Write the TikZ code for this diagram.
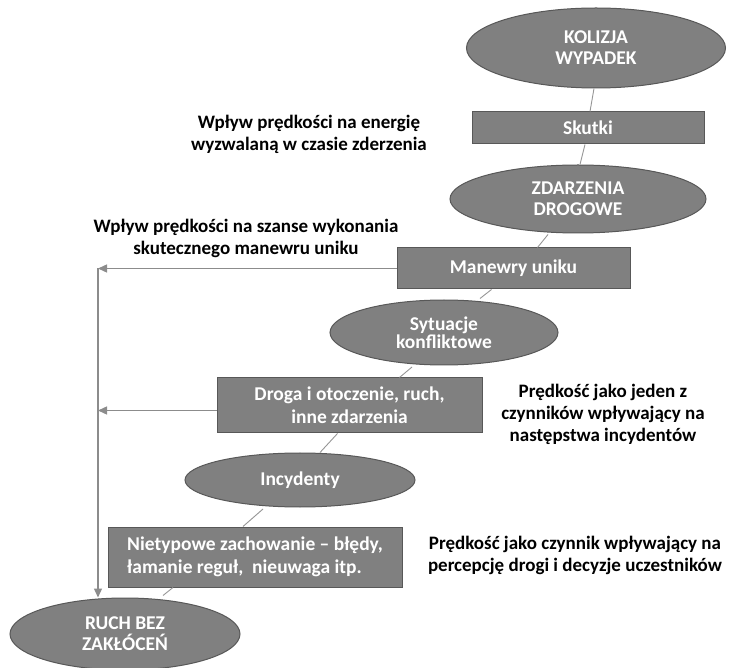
\documentclass[tikz,border=0pt]{standalone}
\usepackage{fontspec}
\setmainfont{Carlito}
\usetikzlibrary{shapes.geometric,arrows.meta}
\definecolor{boxfill}{RGB}{128,128,128}
\definecolor{boxline}{RGB}{88,88,88}
\definecolor{linkgray}{RGB}{150,150,150}
\definecolor{arrgray}{RGB}{140,140,140}
\tikzset{
  oval/.style={ellipse, draw=boxline, fill=boxfill, line width=1pt, text=white,
    font=\bfseries\fontsize{19.5}{21}\selectfont, align=center, inner sep=0pt},
  blok/.style={rectangle, draw=boxline, fill=boxfill, line width=1pt, text=white,
    font=\bfseries\fontsize{19.5}{23}\selectfont, align=center, inner sep=0pt},
  note/.style={font=\bfseries\fontsize{19}{22}\selectfont, align=center, text=black, inner sep=0pt},
  link/.style={draw=linkgray, line width=0.9pt},
  feed/.style={draw=arrgray, line width=1.4pt, -{Triangle[length=9pt,width=8pt]}}
}
\begin{document}
\begin{tikzpicture}[x=1pt,y=-1pt]
\useasboundingbox (0,0) rectangle (729,668);
% nodes
\node[oval, minimum width=259pt, minimum height=80pt] (kol) at (596,48) {KOLIZJA\\WYPADEK};
\node[blok, minimum width=232pt, minimum height=32pt] (sku) at (588,128) {Skutki};
\node[oval, minimum width=256pt, minimum height=68pt] (zda) at (578,199) {ZDARZENIA\\DROGOWE};
\node[blok, minimum width=233pt, minimum height=41pt] (man) at (513.5,268.5) {Manewry uniku};
\node[oval, minimum width=228pt, minimum height=65pt] (syt) at (444,332.5) {Sytuacje\\[-3pt]konfliktowe};
\node[blok, minimum width=265pt, minimum height=55pt] (dro) at (349.5,405.5) {Droga i otoczenie, ruch,\\inne zdarzenia};
\node[oval, minimum width=230pt, minimum height=54pt] (inc) at (300,480) {Incydenty};
\node[blok, minimum width=294pt, minimum height=60pt, align=left] (nie) at (255,557) {Nietypowe zachowanie – błędy,\\łamanie reguł,~~nieuwaga itp.};
\node[oval, minimum width=230pt, minimum height=72pt] (ruc) at (125,634) {RUCH BEZ\\ZAKŁÓCEŃ};
% annotations
\node[note] (n1) at (309,134) {Wpływ prędkości na energię\\wyzwalaną w czasie zderzenia};
\node[note] (n2) at (246,238) {Wpływ prędkości na szanse wykonania\\skutecznego manewru uniku};
\node[note] (n3) at (603,414) {Prędkość jako jeden z\\czynników wpływający na\\następstwa incydentów};
\node[note] (n4) at (575,555) {Prędkość jako czynnik wpływający na\\percepcję drogi i decyzje uczestników};
% chain links
\draw[link] ([xshift=-2pt]kol.south) -- ([xshift=2pt]sku.north);
\draw[link] ([xshift=-3pt]sku.south) -- ([xshift=2pt]zda.north);
\draw[link] ([xshift=-30pt,yshift=-1pt]zda.south) -- ([xshift=24pt]man.north);
\draw[link] ([xshift=-22pt]man.south) -- ([xshift=36pt,yshift=1pt]syt.north);
\draw[link] ([xshift=-32pt,yshift=-1.5pt]syt.south) -- ([xshift=50pt]dro.north);
\draw[link] ([xshift=-12pt]dro.south) -- ([xshift=20pt]inc.north);
\draw[link] ([xshift=-37pt,yshift=-1.5pt]inc.south) -- ([xshift=-12pt]nie.north);
\draw[link] ([xshift=-82pt]nie.south) -- ([xshift=38pt,yshift=2pt]ruc.north);
% feedback arrows
\coordinate (jn) at (98,268.5);
\coordinate (dw) at ([yshift=-5pt]dro.west);
\draw[feed] (man.west) -- (jn);
\draw[feed] (dw) -- (jn |- dw);
\draw[feed] (jn) -- (jn |- ruc.north);
\end{tikzpicture}
\end{document}
